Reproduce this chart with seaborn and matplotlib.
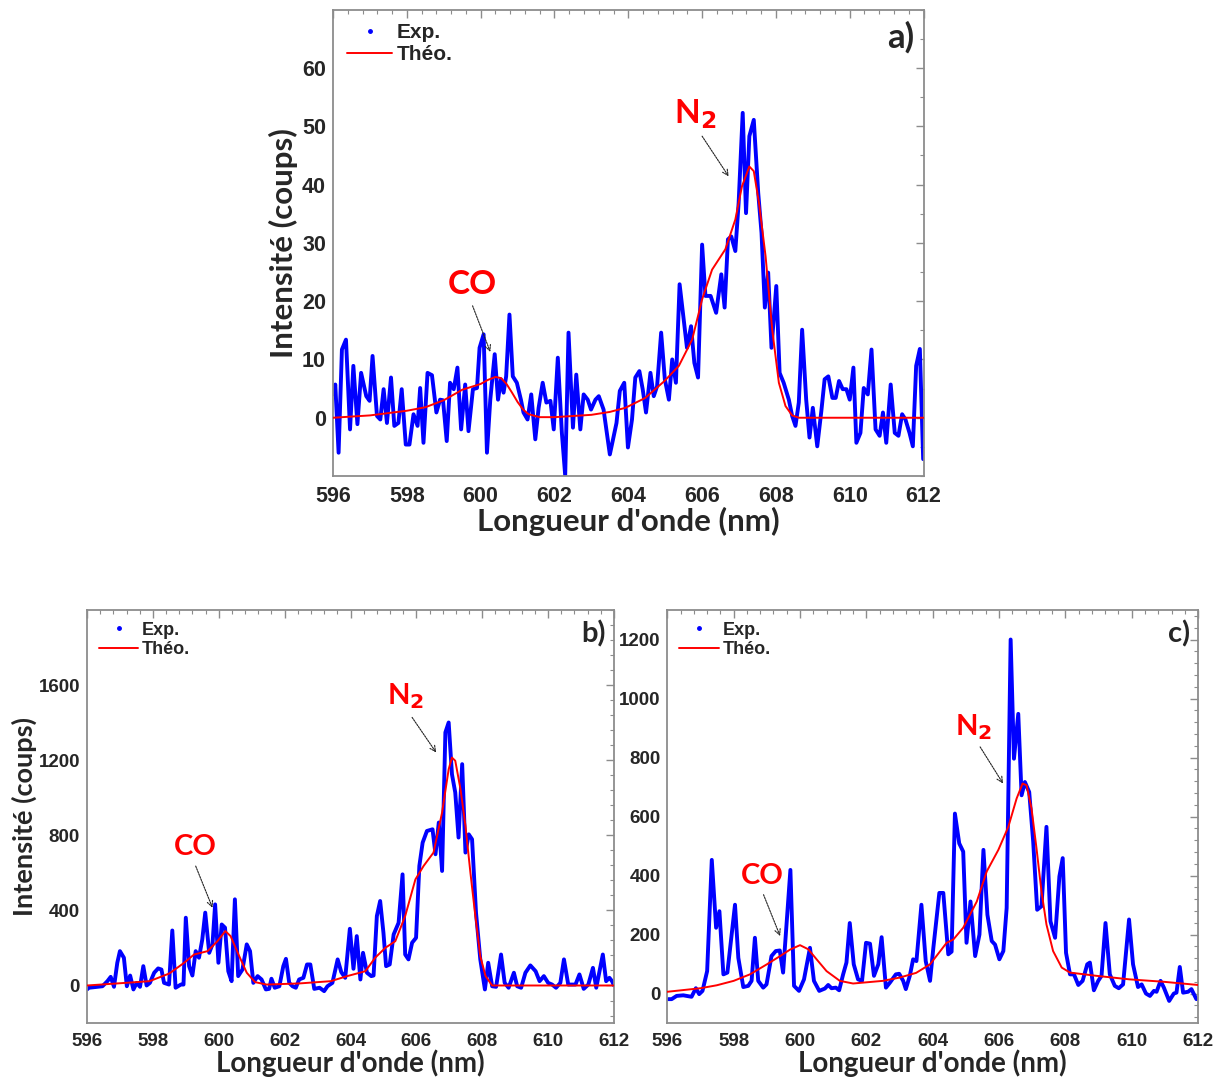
import numpy as np
import pandas as pd
import seaborn as sns
import matplotlib
matplotlib.use("Agg")
import matplotlib.pyplot as plt
from matplotlib.lines import Line2D
from matplotlib.ticker import MultipleLocator

# ---------------- data: panel a ----------------
a_exp_wl = [596.0, 596.06, 596.15, 596.24, 596.35, 596.46, 596.55, 596.66, 596.76, 596.9, 596.99, 597.07,
            597.19, 597.28, 597.37, 597.46, 597.57, 597.66, 597.77, 597.86, 597.97, 598.07, 598.18, 598.29,
            598.36, 598.45, 598.56, 598.68, 598.8, 598.9, 598.98, 599.08, 599.17, 599.27, 599.37, 599.47,
            599.58, 599.67, 599.79, 599.9, 599.97, 600.08, 600.17, 600.26, 600.38, 600.47, 600.55, 600.62,
            600.69, 600.78, 600.87, 600.98, 601.09, 601.16, 601.27, 601.37, 601.48, 601.57, 601.68, 601.78,
            601.89, 601.98, 602.09, 602.2, 602.29, 602.38, 602.5, 602.59, 602.7, 602.79, 602.9, 602.99,
            603.11, 603.2, 603.33, 603.5, 603.68, 603.77, 603.89, 603.99, 604.1, 604.19, 604.3, 604.39,
            604.48, 604.6, 604.69, 604.78, 604.89, 604.99, 605.1, 605.19, 605.29, 605.39, 605.5, 605.59,
            605.7, 605.79, 605.89, 606.0, 606.09, 606.23, 606.38, 606.52, 606.61, 606.7, 606.79, 606.9,
            606.99, 607.1, 607.19, 607.28, 607.4, 607.52, 607.61, 607.7, 607.79, 607.88, 608.01, 608.1,
            608.21, 608.35, 608.44, 608.53, 608.62, 608.71, 608.82, 608.91, 609.0, 609.12, 609.23, 609.32,
            609.42, 609.53, 609.62, 609.71, 609.81, 609.91, 610.0, 610.1, 610.18, 610.29, 610.38, 610.49,
            610.59, 610.7, 610.81, 610.9, 610.99, 611.11, 611.22, 611.32, 611.42, 611.51, 611.62, 611.71,
            611.8, 611.9, 611.99]
a_exp_int = [4.0, 5.7, -6.0, 11.7, 13.4, -2.0, 8.9, -1.1, 7.7, 3.7, 2.9, 10.6,
             0.3, -0.3, 4.9, -0.9, 6.9, -1.4, -0.9, 4.9, -4.6, -4.6, 0.6, -1.4,
             5.1, -4.3, 7.7, 7.3, 0.9, 3.1, 3.0, -4.0, 6.0, 4.9, 8.6, -2.0,
             5.7, -2.3, 4.9, 5.1, 12.0, 14.3, -6.0, 3.1, 10.9, 3.1, 6.6, 4.3,
             7.1, 17.7, 7.1, 6.0, 3.1, 0.9, -0.3, 4.0, -3.7, 1.7, 6.0, 2.6,
             2.9, -2.0, 10.3, -2.6, -9.9, 14.6, -1.7, 7.4, -2.0, 4.0, 3.1, 1.4,
             3.1, 3.7, 1.4, -6.3, -0.9, 4.6, 6.0, -5.1, -0.3, 6.9, 8.0, 4.9,
             0.9, 7.7, 3.7, 5.4, 14.6, 6.6, 3.1, 10.0, 6.0, 22.9, 16.9, 12.0,
             15.7, 9.4, 6.9, 29.7, 20.9, 20.9, 18.0, 24.6, 18.9, 30.6, 31.1, 28.6,
             36.9, 52.3, 35.1, 48.3, 51.1, 38.6, 31.7, 18.9, 24.9, 12.0, 22.6, 7.7,
             6.0, 3.1, 0.3, -1.4, 2.6, 15.1, 3.1, -3.4, 1.7, -4.9, 1.1, 6.6,
             7.1, 3.4, 3.4, 6.3, 4.9, 4.9, 3.1, 8.6, -4.3, -2.6, 5.1, 4.0,
             11.7, -2.0, -3.1, 0.9, -4.3, 5.7, -2.6, -3.1, 0.6, -0.3, -2.6, -4.9,
             8.9, 11.8, -7.1]
a_theo_wl = [596.0, 597.0, 597.5, 598.0, 598.5, 599.0, 599.5, 600.0, 600.2, 600.4, 600.55, 600.7, 600.85,
             601.0, 601.15, 601.3, 601.6, 602.0, 602.5, 603.0, 603.5, 603.92, 604.46, 604.98, 605.37,
             605.73, 606.0, 606.27, 606.63, 606.9, 607.08, 607.28, 607.4, 607.54, 607.72, 607.9, 608.08,
             608.26, 608.44, 608.62, 609.5, 610.5, 611.5, 612.0]
a_theo_int = [0.0, 0.4, 0.8, 1.2, 1.8, 3.0, 4.8, 5.8, 6.5, 7.0, 6.8, 5.8, 4.3,
              2.7, 1.4, 0.6, 0.1, 0.1, 0.3, 0.5, 1.0, 1.7, 3.4, 6.3, 8.9,
              13.4, 20.3, 25.4, 28.9, 34.0, 39.7, 43.1, 42.3, 36.9, 27.7, 15.1, 6.0,
              2.0, 0.4, 0.0, 0.0, 0.0, 0.0, 0.0]

# ---------------- data: panel b ----------------
b_exp_wl = [596.0, 596.06, 596.31, 596.47, 596.62, 596.72, 596.82, 596.92, 597.0, 597.12, 597.21, 597.31,
            597.41, 597.51, 597.61, 597.71, 597.81, 597.91, 598.04, 598.16, 598.26, 598.34, 598.49, 598.59,
            598.69, 598.85, 598.93, 599.0, 599.1, 599.2, 599.3, 599.4, 599.5, 599.59, 599.71, 599.81,
            599.89, 599.99, 600.09, 600.19, 600.29, 600.39, 600.49, 600.59, 600.72, 600.85, 600.95, 601.05,
            601.18, 601.3, 601.43, 601.53, 601.6, 601.7, 601.84, 601.96, 602.04, 602.14, 602.24, 602.34,
            602.44, 602.57, 602.68, 602.78, 602.9, 603.06, 603.2, 603.3, 603.45, 603.61, 603.72, 603.84,
            603.98, 604.09, 604.19, 604.3, 604.38, 604.5, 604.63, 604.7, 604.8, 604.9, 605.0, 605.08,
            605.19, 605.31, 605.46, 605.58, 605.66, 605.76, 605.87, 605.99, 606.09, 606.19, 606.32, 606.49,
            606.58, 606.68, 606.78, 606.88, 606.98, 607.08, 607.18, 607.28, 607.39, 607.49, 607.59, 607.69,
            607.81, 607.94, 608.08, 608.18, 608.3, 608.42, 608.57, 608.68, 608.8, 608.96, 609.06, 609.18,
            609.31, 609.46, 609.62, 609.74, 609.87, 610.0, 610.12, 610.24, 610.37, 610.48, 610.61, 610.83,
            610.95, 611.08, 611.22, 611.36, 611.46, 611.66, 611.76, 611.86, 611.94, 612.0]
b_exp_int = [-21, -12, -7, -4, 23, 46, -7, 121, 183, 148, -4, 53,
             -21, 14, -7, 103, 0, 14, 68, 91, 85, 14, 5, 293,
             -12, 5, 5, 361, 103, 53, 183, 148, 245, 388, 174, 219,
             432, 121, 325, 308, 76, 23, 459, 50, 85, 219, 183, 14,
             50, 32, -21, -18, 36, -12, -4, 103, 142, 14, -4, -12,
             32, 41, 112, 112, -18, -12, -30, -4, 14, 139, 71, 41,
             302, 89, 263, 32, 174, 68, 50, 53, 370, 450, 281, 103,
             112, 272, 334, 592, 165, 139, 228, 254, 637, 761, 823, 832,
             699, 868, 610, 1348, 1401, 1125, 1028, 788, 1179, 708, 805, 779,
             388, 139, -21, 121, -4, -7, 165, 14, -12, 68, -4, -12,
             68, 107, 76, 23, 50, 14, 5, -12, 14, 139, 5, 5,
             59, -18, 5, 94, -12, 165, 23, 41, 23, 0]
b_theo_wl = [596.0, 596.92, 597.9, 598.5, 598.95, 599.25, 599.66, 599.96, 600.2, 600.36, 600.6, 600.85,
             601.1, 601.45, 602.45, 603.4, 603.9, 604.45, 604.75, 605.06, 605.36, 605.66, 605.97,
             606.22, 606.52, 606.78, 606.98, 607.08, 607.18, 607.34, 607.49, 607.64, 607.79, 607.94,
             608.1, 608.3, 609.5, 611.0, 612.0]
b_theo_int = [0, 11, 23, 64, 121, 165, 183, 236, 290, 263, 165, 68,
              18, 5, 11, 23, 50, 76, 148, 201, 236, 370, 565,
              637, 708, 921, 1152, 1214, 1197, 1045, 850, 601, 370, 156,
              50, 0, 0, 0, 0]

# ---------------- data: panel c ----------------
c_exp_wl = [596.03, 596.13, 596.28, 596.48, 596.73, 596.86, 596.96, 597.06, 597.2, 597.34, 597.47, 597.57,
            597.69, 597.81, 598.04, 598.14, 598.29, 598.44, 598.54, 598.64, 598.74, 598.89, 598.99, 599.14,
            599.27, 599.39, 599.49, 599.71, 599.82, 599.97, 600.12, 600.3, 600.42, 600.58, 600.75, 600.85,
            600.95, 601.08, 601.18, 601.3, 601.4, 601.5, 601.62, 601.75, 601.87, 601.99, 602.11, 602.23,
            602.36, 602.46, 602.59, 602.71, 602.89, 602.99, 603.11, 603.19, 603.31, 603.41, 603.51, 603.66,
            603.79, 603.92, 604.02, 604.2, 604.32, 604.47, 604.57, 604.67, 604.8, 604.92, 605.02, 605.14,
            605.28, 605.41, 605.53, 605.65, 605.78, 605.88, 606.01, 606.13, 606.23, 606.35, 606.45, 606.58,
            606.68, 606.78, 606.91, 607.03, 607.15, 607.28, 607.43, 607.55, 607.69, 607.82, 607.92, 608.02,
            608.14, 608.26, 608.39, 608.52, 608.66, 608.74, 608.86, 608.99, 609.09, 609.21, 609.34, 609.49,
            609.61, 609.74, 609.92, 610.04, 610.19, 610.3, 610.43, 610.55, 610.67, 610.75, 610.87, 610.97,
            611.13, 611.27, 611.35, 611.45, 611.55, 611.7, 611.8, 611.95]
c_exp_int = [-19, -19, -8, -6, -11, 18, -2, 9, 76, 453, 223, 279,
             65, 71, 301, 121, 22, 26, 43, 189, 43, 20, 31, 127,
             144, 146, 71, 419, 26, 9, 48, 155, 43, 9, 17, 29,
             18, 20, 11, 65, 105, 239, 99, 48, 43, 172, 169, 60,
             99, 191, 20, 37, 65, 67, 43, 15, 60, 116, 110, 301,
             110, 43, 155, 341, 341, 133, 142, 610, 509, 481, 172, 312,
             127, 200, 487, 267, 178, 166, 116, 144, 290, 1200, 796, 948,
             672, 717, 683, 515, 284, 296, 565, 245, 189, 397, 459, 138,
             65, 65, 29, 43, 99, 105, 11, 43, 60, 239, 65, 26,
             18, 31, 251, 99, 22, 31, 0, -8, 9, 6, 43, 20,
             -25, 0, 3, 90, 3, 6, 15, -19]
c_theo_wl = [596.0, 597.0, 597.49, 598.0, 598.49, 599.0, 599.4, 599.7, 600.0, 600.25, 600.5, 600.8,
             601.2, 601.6, 602.5, 603.0, 603.5, 603.92, 604.42, 604.62, 604.92, 605.33, 605.63,
             605.98, 606.28, 606.53, 606.71, 606.83, 606.98, 607.13, 607.28, 607.43, 607.63, 607.89,
             608.14, 608.94, 609.94, 610.95, 612.0]
c_theo_int = [6, 18, 28, 43, 65, 99, 127, 149, 164, 150, 116, 76,
              43, 34, 43, 54, 70, 99, 172, 183, 223, 312, 414,
              487, 565, 661, 712, 706, 627, 492, 346, 234, 144, 88,
              71, 60, 48, 40, 29]

x_ticks = [596, 598, 600, 602, 604, 606, 608, 610, 612]

# ---------------- style ----------------
sns.set_style("white")
plt.rcParams["font.family"] = ["Liberation Sans", "DejaVu Sans"]
plt.rcParams["font.weight"] = "bold"

LABEL_FONT = ["Lato", "DejaVu Sans"]
SPINE = "#8c8c8c"

fig = plt.figure(figsize=(12.2, 10.77), dpi=100)
ax_a = fig.add_axes([0.273, 0.558, 0.484, 0.433])
ax_b = fig.add_axes([0.0713, 0.0501, 0.432, 0.3835])
ax_c = fig.add_axes([0.547, 0.0501, 0.435, 0.3835])

panels = [
    dict(ax=ax_a, ew=a_exp_wl, ei=a_exp_int, tw=a_theo_wl, ti=a_theo_int, ylim=(-10, 70),
         yt=[0, 10, 20, 30, 40, 50, 60], ymin=5, letter="a)", big=True, ylabel=True,
         co=(599.76, 22.8, 599.78, 19.2, 600.26, 11.3), n2=(605.8, 52.0, 606.0, 48.3, 606.72, 41.4)),
    dict(ax=ax_b, ew=b_exp_wl, ei=b_exp_int, tw=b_theo_wl, ti=b_theo_int, ylim=(-200, 2000),
         yt=[0, 400, 800, 1200, 1600], ymin=80, letter="b)", big=False, ylabel=True,
         co=(599.3, 736, 599.3, 636, 599.81, 414), n2=(605.67, 1540, 605.87, 1428, 606.6, 1241)),
    dict(ax=ax_c, ew=c_exp_wl, ei=c_exp_int, tw=c_theo_wl, ti=c_theo_int, ylim=(-100, 1300),
         yt=[0, 200, 400, 600, 800, 1000, 1200], ymin=40, letter="c)", big=False, ylabel=False,
         co=(598.86, 398, 598.9, 335, 599.4, 195), n2=(605.22, 904, 605.43, 836, 606.12, 712)),
]

for p in panels:
    ax = p["ax"]
    big = p["big"]
    df_e = pd.DataFrame({"wl": p["ew"], "I": p["ei"]})
    df_t = pd.DataFrame({"wl": p["tw"], "I": p["ti"]})
    sns.lineplot(data=df_e, x="wl", y="I", ax=ax, color="#0000ff", lw=2.8,
                 estimator=None, sort=False, zorder=2)
    sns.lineplot(data=df_t, x="wl", y="I", ax=ax, color="#ff0000", lw=1.4,
                 estimator=None, sort=False, zorder=3)
    ax.set_xlim(596, 612)
    ax.set_ylim(*p["ylim"])
    ax.set_xticks(x_ticks)
    ax.xaxis.set_minor_locator(MultipleLocator(0.4))
    ax.set_yticks(p["yt"])
    ax.yaxis.set_minor_locator(MultipleLocator(p["ymin"]))
    tsize = 15.5 if big else 13.5
    ax.tick_params(which="both", direction="in", top=True, right=True, color=SPINE,
                   labelsize=tsize)
    ax.tick_params(axis="x", which="major", pad=7)
    ax.tick_params(axis="y", which="major", pad=5)
    ax.tick_params(which="major", length=6, width=1)
    ax.tick_params(which="minor", length=3, width=0.8)
    for lab in ax.get_xticklabels() + ax.get_yticklabels():
        lab.set_fontweight("bold")
    for s in ax.spines.values():
        s.set_color(SPINE)
        s.set_linewidth(1.3)
    lsize = 22.5 if big else 20
    ax.set_xlabel("Longueur d'onde (nm)", fontsize=lsize, fontweight="bold",
                  family=LABEL_FONT, labelpad=0)
    if p["ylabel"]:
        ax.set_ylabel("Intensité (coups)", fontsize=lsize if big else 19.5, fontweight="bold",
                      family=LABEL_FONT, labelpad=3 if big else 1)
    else:
        ax.set_ylabel("")
    ax.text(0.985, 0.975, p["letter"], transform=ax.transAxes, ha="right", va="top",
            fontsize=25 if big else 21, fontweight="bold", family=LABEL_FONT)
    handles = [Line2D([], [], color="#0000ff", marker=".", ls="none", markersize=5),
               Line2D([], [], color="#ff0000", lw=1.4)]
    ax.legend(handles, ["Exp.", "Théo."], loc="upper left", frameon=False,
              prop=dict(weight="bold", size=15 if big else 13), handlelength=2.2,
              handletextpad=0.2, borderaxespad=0.25, labelspacing=0.15)
    asize = 24 if big else 21
    tx, ty, sx, sy, ex, ey = p["co"]
    ax.text(tx, ty, "CO", color="#ff0000", fontsize=asize, fontweight="bold",
            family=LABEL_FONT, ha="center", va="center", zorder=5)
    ax.annotate("", xy=(ex, ey), xytext=(sx, sy),
                arrowprops=dict(arrowstyle="->", ls=(0, (1.5, 1)), lw=0.8, color="#222222",
                                shrinkA=0, shrinkB=0), zorder=5)
    tx, ty, sx, sy, ex, ey = p["n2"]
    ax.text(tx, ty, "N$_\\mathbf{2}$", color="#ff0000", fontsize=asize, fontweight="bold",
            family=LABEL_FONT, ha="center", va="center", zorder=5)
    ax.annotate("", xy=(ex, ey), xytext=(sx, sy),
                arrowprops=dict(arrowstyle="->", ls=(0, (1.5, 1)), lw=0.8, color="#222222",
                                shrinkA=0, shrinkB=0), zorder=5)

fig.savefig("out.png", dpi=100, facecolor="white")
